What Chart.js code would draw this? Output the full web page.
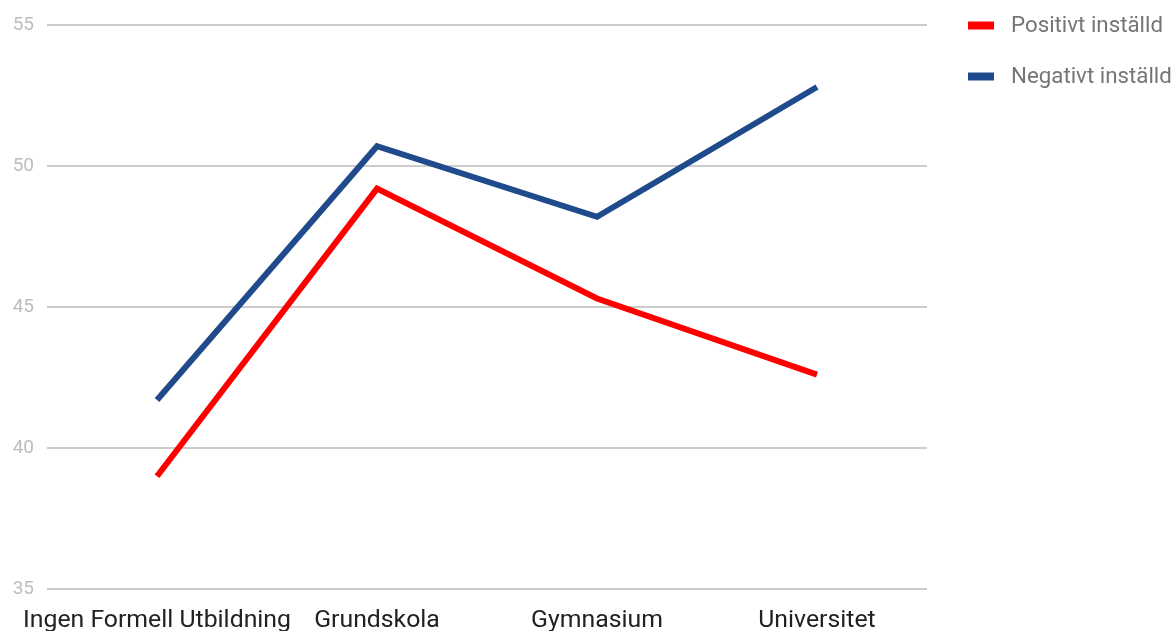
<!DOCTYPE html>
<html lang="sv">
<head>
    <meta charset="UTF-8">
    <title>Utbildning</title>
    <script src="https://cdn.jsdelivr.net/npm/chart.js@4.4.1/dist/chart.umd.min.js"></script>
    <style>
        html, body { margin: 0; padding: 0; background: #fff; overflow: hidden; }
        #wrap { position: relative; width: 1176px; height: 631px; }
    </style>
</head>
<body>
<div id="wrap">
    <canvas id="chart"></canvas>
</div>

<script>
    // data
    const categories = ['Ingen Formell Utbildning', 'Grundskola', 'Gymnasium', 'Universitet'];
    const positivt = [39.0, 49.2, 45.3, 42.6];
    const negativt = [41.7, 50.7, 48.2, 52.8];
    const seriesNames = ['Positivt inställd', 'Negativt inställd'];
    const yTicks = [35, 40, 45, 50, 55];

    // simple legend drawn to the right of the plot, like the original
    const sideLegend = {
        id: 'sideLegend',
        afterDraw(chart) {
            const ctx = chart.ctx;
            const area = chart.chartArea;
            ctx.save();
            ctx.font = '22.3px Roboto';
            ctx.textBaseline = 'middle';
            ctx.textAlign = 'left';
            chart.data.datasets.forEach((ds, i) => {
                const cy = area.top + 0.5 + i * 51;
                const bx = area.right + 41;
                ctx.fillStyle = ds.borderColor;
                ctx.fillRect(bx, cy - 4, 26, 8);
                ctx.fillStyle = '#757575';
                ctx.fillText(ds.label, bx + 43, cy + 1);
            });
            ctx.restore();
        }
    };

    new Chart(document.getElementById('chart'), {
        type: 'line',
        data: {
            labels: categories,
            datasets: [
                {
                    label: seriesNames[0],
                    data: positivt,
                    borderColor: '#ff0000',
                    backgroundColor: '#ff0000',
                    borderWidth: 6,
                    pointRadius: 0,
                    tension: 0,
                    fill: false
                },
                {
                    label: seriesNames[1],
                    data: negativt,
                    borderColor: '#1f4a8c',
                    backgroundColor: '#1f4a8c',
                    borderWidth: 6,
                    pointRadius: 0,
                    tension: 0,
                    fill: false
                }
            ]
        },
        options: {
            responsive: true,
            maintainAspectRatio: false,
            animation: false,
            layout: {
                padding: { top: 25, left: 0, right: 249, bottom: 0 }
            },
            plugins: {
                legend: { display: false },
                tooltip: { enabled: false }
            },
            scales: {
                x: {
                    offset: true,
                    grid: { display: false, drawTicks: false },
                    border: { display: false },
                    ticks: {
                        color: '#212121',
                        font: { family: 'Roboto', size: 24.8 },
                        padding: 17,
                        maxRotation: 0,
                        autoSkip: false
                    },
                    afterFit(axis) { axis.height = 42; }
                },
                y: {
                    min: yTicks[0],
                    max: yTicks[yTicks.length - 1],
                    afterBuildTicks(axis) {
                        axis.ticks = yTicks.map(v => ({ value: v }));
                    },
                    grid: { color: '#cccccc', lineWidth: 2, drawTicks: false },
                    border: { display: false },
                    ticks: {
                        color: '#bdbdbd',
                        font: { family: 'Roboto', size: 19 },
                        padding: 13
                    },
                    afterFit(axis) { axis.width = 47; }
                }
            }
        },
        plugins: [sideLegend]
    });
</script>
</body>
</html>
